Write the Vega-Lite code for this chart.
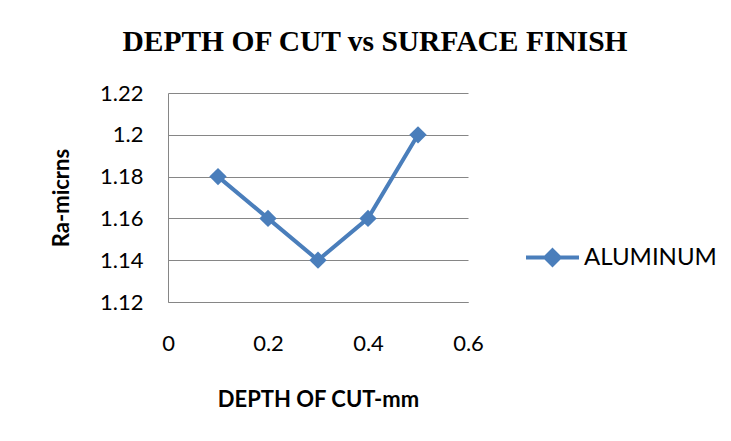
{
  "$schema": "https://vega.github.io/schema/vega-lite/v6.json",
  "width": 300,
  "height": 209,
  "autosize": "none",
  "padding": {"left": 168, "top": 93, "right": 263, "bottom": 139},
  "background": "white",
  "title": {
    "text": "DEPTH OF CUT vs SURFACE FINISH",
    "font": "Liberation Serif",
    "fontSize": 29.5,
    "fontWeight": "bold",
    "color": "black",
    "anchor": "middle",
    "dx": 57,
    "offset": 25
  },
  "data": {
    "values": [
      {"depth": 0.1, "ra": 1.18, "series": "ALUMINUM"},
      {"depth": 0.2, "ra": 1.16, "series": "ALUMINUM"},
      {"depth": 0.3, "ra": 1.14, "series": "ALUMINUM"},
      {"depth": 0.4, "ra": 1.16, "series": "ALUMINUM"},
      {"depth": 0.5, "ra": 1.2, "series": "ALUMINUM"}
    ]
  },
  "mark": {"type": "line", "strokeWidth": 4, "point": {"shape": "diamond", "size": 300, "filled": true, "opacity": 1}},
  "encoding": {
    "x": {
      "field": "depth",
      "type": "quantitative",
      "scale": {"domain": [0, 0.6], "nice": false, "zero": false},
      "axis": {
        "values": [0, 0.2, 0.4, 0.6],
        "format": ".1~f",
        "title": "DEPTH OF CUT-mm",
        "grid": false,
        "ticks": false,
        "domain": true,
        "domainColor": "#868686",
        "labelFlush": false,
        "labelPadding": 31,
        "labelFont": "Lato",
        "labelFontSize": 22,
        "labelColor": "black",
        "titleFont": "Lato",
        "titleFontSize": 22,
        "titleFontWeight": "bold",
        "titleColor": "black",
        "titlePadding": 35
      }
    },
    "y": {
      "field": "ra",
      "type": "quantitative",
      "scale": {"domain": [1.12, 1.22], "nice": false, "zero": false},
      "axis": {
        "values": [1.12, 1.14, 1.16, 1.18, 1.2, 1.22],
        "format": ".2~f",
        "title": "Ra-micrns",
        "grid": true,
        "gridColor": "#868686",
        "ticks": false,
        "domain": true,
        "domainColor": "#868686",
        "labelPadding": 25,
        "labelFont": "Lato",
        "labelFontSize": 22,
        "labelColor": "black",
        "titleFont": "Lato",
        "titleFontSize": 22,
        "titleFontWeight": "bold",
        "titleColor": "black",
        "titlePadding": 26
      }
    },
    "color": {
      "field": "series",
      "type": "nominal",
      "scale": {"range": ["#4A7EBB"]},
      "legend": {
        "title": null,
        "orient": "none",
        "legendX": 356,
        "legendY": 136,
        "padding": 0,
        "symbolType": "M-1,0L1,0M0,-0.27L0.27,0L0,0.27L-0.27,0Z",
        "symbolSize": 2809,
        "symbolStrokeWidth": 4,
        "symbolFillColor": "#4A7EBB",
        "symbolStrokeColor": "#4A7EBB",
        "labelFont": "Lato",
        "labelFontSize": 24,
        "labelColor": "black",
        "labelOffset": 3,
        "labelLimit": 300
      }
    }
  },
  "config": {"view": {"stroke": null}}
}
